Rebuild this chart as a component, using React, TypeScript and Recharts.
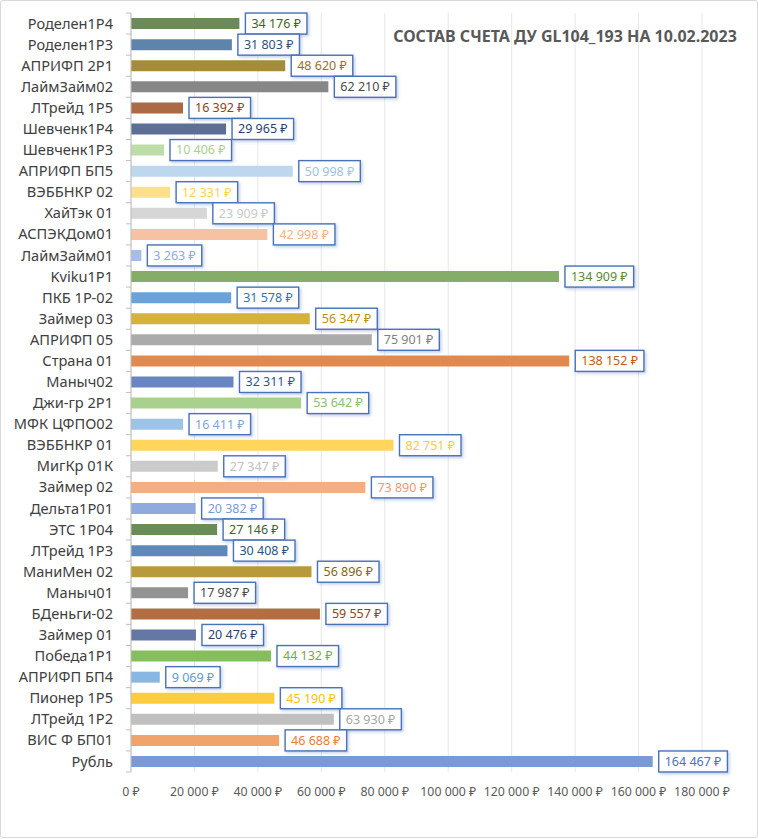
import React from 'react';
import { BarChart, Bar, XAxis, YAxis, CartesianGrid, LabelList, Cell } from 'recharts';

const categories = [
  'Роделен1Р4', 'Роделен1Р3', 'АПРИФП 2Р1', 'ЛаймЗайм02', 'ЛТрейд 1Р5', 'Шевченк1Р4', 'Шевченк1Р3',
  'АПРИФП БП5', 'ВЭББНКР 02', 'ХайТэк 01', 'АСПЭКДом01', 'ЛаймЗайм01', 'Kviku1P1', 'ПКБ 1Р-02',
  'Займер 03', 'АПРИФП 05', 'Страна 01', 'Маныч02', 'Джи-гр 2Р1', 'МФК ЦФПО02', 'ВЭББНКР 01',
  'МигКр 01К', 'Займер 02', 'Дельта1Р01', 'ЭТС 1Р04', 'ЛТрейд 1Р3', 'МаниМен 02', 'Маныч01',
  'БДеньги-02', 'Займер 01', 'Победа1Р1', 'АПРИФП БП4', 'Пионер 1Р5', 'ЛТрейд 1Р2', 'ВИС Ф БП01', 'Рубль',
];

const values = [
  34176, 31803, 48620, 62210, 16392, 29965, 10406,
  50998, 12331, 23909, 42998, 3263, 134909, 31578,
  56347, 75901, 138152, 32311, 53642, 16411, 82751,
  27347, 73890, 20382, 27146, 30408, 56896, 17987,
  59557, 20476, 44132, 9069, 45190, 63930, 46688, 164467,
];

const barColors = [
  '#6B8A5C', '#5F84AC', '#A48C3C', '#878787', '#AA6B44', '#5E6F96', '#BCDDA8',
  '#BDD7EE', '#FFE08A', '#D6D6D6', '#F6C2A2', '#A6BDE6', '#86AD68', '#6AA2D9',
  '#D6B13C', '#ABABAB', '#E08950', '#6A86C2', '#A9D18E', '#9DC3E6', '#FFD55C',
  '#CBCBCB', '#F3AE85', '#8FAADC', '#6A8C56', '#5E89B8', '#B89A3A', '#939393',
  '#B06E42', '#6577A3', '#86BE5E', '#88B7E2', '#FFCC40', '#C0C0C0', '#F1A36C', '#7A9AD6',
];

const labelColors = [
  '#3F6328', '#2E5378', '#94741A', '#4A4A4A', '#8E4414', '#283F6E', '#A9D18E',
  '#9DC3E6', '#FFD24D', '#C8C8C8', '#F4B183', '#8FAADC', '#5A8A3A', '#2E75B6',
  '#BF8F00', '#7F7F7F', '#C55A11', '#2F5597', '#8CC168', '#7EA6D6', '#FFC93A',
  '#BFBFBF', '#EE9A6A', '#7B9BD6', '#3F6328', '#255582', '#86670A', '#4A4A4A',
  '#8E4414', '#283F6E', '#70AD47', '#5B9BD5', '#FFC000', '#A5A5A5', '#ED7D31', '#4472C4',
];

const xTicks = [0, 20000, 40000, 60000, 80000, 100000, 120000, 140000, 160000, 180000];

const data = categories.map((name, i) => ({
  name,
  value: values[i],
  fill: barColors[i],
  labelColor: labelColors[i],
}));

const FONT = '"Noto Sans", "Open Sans", sans-serif';
const LABEL_FONT_SIZE = 12.5;
const PLOT_TOP = 13;
const PLOT_BOTTOM = 772;
const BAND = (PLOT_BOTTOM - PLOT_TOP) / categories.length;

const rub = (v: number) => String(v).replace(/\B(?=(\d{3})+(?!\d))/g, ' ') + ' ₽';

let ctx: CanvasRenderingContext2D | null = null;
const measure = (s: string) => {
  if (!ctx) ctx = document.createElement('canvas').getContext('2d');
  if (!ctx) return s.length * 7;
  ctx.font = `${LABEL_FONT_SIZE}px ${FONT}`;
  return ctx.measureText(s).width;
};

const CalloutLabel = (props: any) => {
  const { x, y, width, height, value, index } = props;
  const text = rub(value);
  const w = measure(text) + 12;
  const h = 21;
  const bx = x + width + 6;
  const cy = y + height / 2;
  return (
    <g>
      <rect x={bx} y={cy - h / 2} width={w} height={h} fill="#fff" stroke="#4A72B8" strokeWidth={1.4} filter="url(#lblShadow)" />
      <text x={bx + 6} y={cy} dy="0.35em" fontSize={LABEL_FONT_SIZE} fontFamily={FONT} fill={data[index].labelColor}>
        {text}
      </text>
    </g>
  );
};

const CategoryTick = (props: any) => {
  const { x, y, payload, index } = props;
  const axisX = 131;
  return (
    <g>
      <line x1={axisX - 5} x2={axisX} y1={y - BAND / 2} y2={y - BAND / 2} stroke="#BFBFBF" />
      {index === categories.length - 1 && (
        <line x1={axisX - 5} x2={axisX} y1={y + BAND / 2} y2={y + BAND / 2} stroke="#BFBFBF" />
      )}
      <text x={x - 10} y={y} dy="0.35em" textAnchor="end" fontSize={14.6} fontFamily={FONT} fill="#404040">
        {payload.value}
      </text>
    </g>
  );
};

export default function App() {
  return (
    <div
      style={{
        position: 'absolute',
        left: 0,
        top: 0,
        width: 758,
        height: 839,
        background: '#fff',
        fontFamily: FONT,
      }}
    >
      <div
        style={{
          position: 'absolute',
          left: 0,
          top: 0,
          width: 756,
          height: 836,
          border: '1px solid #D9D9D9',
          borderRadius: 3,
        }}
      />
      <BarChart
        width={758}
        height={839}
        data={data}
        layout="vertical"
        margin={{ top: PLOT_TOP, right: 56, bottom: 0, left: 0 }}
        barCategoryGap="24%"
      >
        <defs>
          <filter id="lblShadow" x="-20%" y="-40%" width="150%" height="200%">
            <feDropShadow dx="1.5" dy="1.5" stdDeviation="1.5" floodColor="#4A72B8" floodOpacity="0.35" />
          </filter>
        </defs>
        <CartesianGrid horizontal={false} stroke="#E7E7E7" />
        <XAxis
          type="number"
          domain={[0, 180000]}
          ticks={xTicks}
          tickFormatter={rub}
          axisLine={false}
          tickLine={false}
          tickMargin={9}
          height={839 - PLOT_BOTTOM}
          tick={{ fontSize: 12.3, fontFamily: FONT, fill: '#595959' }}
          interval={0}
        />
        <YAxis
          type="category"
          dataKey="name"
          width={131}
          axisLine={{ stroke: '#BFBFBF' }}
          tickLine={false}
          tick={<CategoryTick />}
          interval={0}
        />
        <Bar dataKey="value" isAnimationActive={false}>
          {data.map((d, i) => (
            <Cell key={i} fill={d.fill} />
          ))}
          <LabelList dataKey="value" content={<CalloutLabel />} />
        </Bar>
      </BarChart>
      <div
        style={{
          position: 'absolute',
          left: 390,
          top: 25,
          width: 350,
          textAlign: 'center',
          fontSize: 16,
          fontWeight: 'bold',
          color: '#595959',
          whiteSpace: 'nowrap',
        }}
      >
        СОСТАВ СЧЕТА ДУ GL104_193 НА 10.02.2023
      </div>
    </div>
  );
}
